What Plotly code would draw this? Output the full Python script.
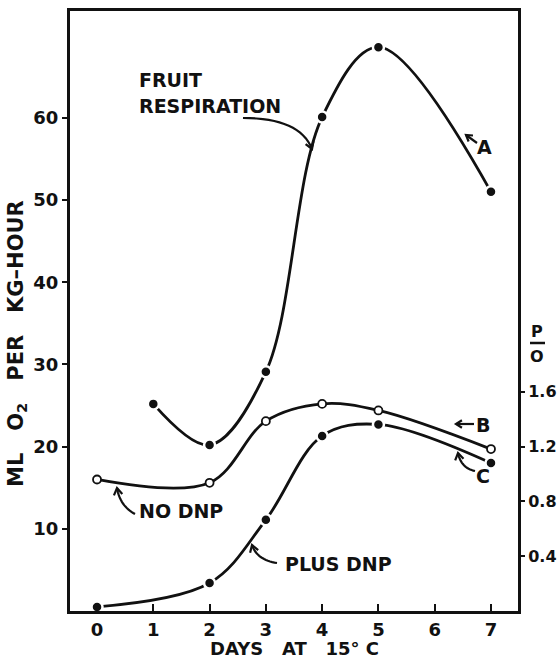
import math
import plotly.graph_objects as go

# ---- data ----
days_a = [1, 2, 3, 4, 5, 7]
resp_a = [25.2, 20.2, 29.1, 60.1, 68.6, 51.0]          # fruit respiration (A)
days_b = [0, 2, 3, 4, 5, 7]
no_dnp_b = [16.0, 15.6, 23.1, 25.2, 24.4, 19.7]         # NO DNP (B)
days_c = [0, 2, 3, 4, 5, 7]
plus_dnp_c = [0.5, 3.4, 11.1, 21.3, 22.7, 18.0]         # PLUS DNP (C)

x_ticks = [0, 1, 2, 3, 4, 5, 6, 7]
y_ticks = [10, 20, 30, 40, 50, 60]
y2_ticks = [0.4, 0.8, 1.2, 1.6]
y2_labels = ["0.4", "0.8", "1.2", "1.6"]

XR = [-0.48, 7.48]
YR = [0, 73]
Y2R = [0, 73 * 0.06]

W, H = 557, 658
L, R, T, B = 70, 518, 11, 611
FONT = "DejaVu Sans"
INK = "#111111"


def dx(px):
    return XR[0] + (px - L) / (R - L) * (XR[1] - XR[0])


def dy(py):
    return YR[0] + (B - py) / (B - T) * (YR[1] - YR[0])


def pxp(px):
    return (px - L) / (R - L)


def pyp(py):
    return (B - py) / (B - T)


fig = go.Figure()

fig.add_trace(go.Scatter(
    x=days_a, y=resp_a, mode="lines+markers",
    line=dict(color=INK, width=2.8, shape="spline", smoothing=1.0),
    marker=dict(size=11, color=INK, line=dict(color="white", width=2.5)),
    showlegend=False))
fig.add_trace(go.Scatter(
    x=days_b, y=no_dnp_b, mode="lines+markers",
    line=dict(color=INK, width=2.8, shape="spline", smoothing=1.0),
    marker=dict(size=8, color="white", line=dict(color=INK, width=1.8)),
    showlegend=False))
fig.add_trace(go.Scatter(
    x=days_c, y=plus_dnp_c, mode="lines+markers",
    line=dict(color=INK, width=2.8, shape="spline", smoothing=1.0),
    marker=dict(size=11, color=INK, line=dict(color="white", width=2.5)),
    showlegend=False))
# dummy trace to activate right axis
fig.add_trace(go.Scatter(x=[None], y=[None], yaxis="y2", showlegend=False))

tfont = dict(family=FONT, size=18, color=INK, weight="bold")
tfont2 = dict(family=FONT, size=16, color=INK, weight="bold")

fig.update_layout(
    width=W, height=H,
    margin=dict(l=L, r=W - R, t=T, b=H - B, autoexpand=False),
    paper_bgcolor="white", plot_bgcolor="white",
    xaxis=dict(range=XR, tickvals=x_ticks, ticks="inside", ticklen=7, tickwidth=2,
               tickcolor=INK, showline=True, linewidth=3, linecolor=INK, mirror=True,
               showgrid=False, zeroline=False, tickfont=tfont, automargin=False),
    yaxis=dict(range=YR, tickvals=y_ticks, ticks="outside", ticklen=5, tickwidth=2,
               tickcolor=INK, showline=True, linewidth=3, linecolor=INK, mirror=True,
               showgrid=False, zeroline=False, tickfont=tfont, automargin=False),
    yaxis2=dict(range=Y2R, overlaying="y", side="right", tickvals=y2_ticks,
                ticktext=y2_labels, ticks="outside", ticklen=6, tickwidth=2,
                tickcolor=INK, showline=False, showgrid=False, zeroline=False,
                tickfont=tfont2, automargin=False),
)

ann = []
shapes = []


def text(px, py, s, xanchor="center", size=19):
    ann.append(dict(x=pxp(px), y=pyp(py), xref="paper", yref="paper", text=s,
                    showarrow=False, xanchor=xanchor, yanchor="middle",
                    font=dict(family=FONT, size=size, color=INK, weight="bold")))


def path_px(pts, width=2):
    d = "M " + " L ".join("{},{}".format(dx(x), dy(y)) for x, y in pts)
    shapes.append(dict(type="path", path=d, xref="x", yref="y",
                       line=dict(color=INK, width=width)))


def vhead(tip, frm, size=8, ang=32):
    ux, uy = frm[0] - tip[0], frm[1] - tip[1]
    n = math.hypot(ux, uy)
    ux, uy = ux / n, uy / n
    pts = []
    for s in (1, -1):
        a = math.radians(ang * s)
        rx = ux * math.cos(a) - uy * math.sin(a)
        ry = ux * math.sin(a) + uy * math.cos(a)
        pts.append((tip[0] + rx * size, tip[1] + ry * size))
    path_px([pts[0], tip, pts[1]], width=2.2)


def qcurve(p0, c, p1, n=16):
    pts = []
    for i in range(n + 1):
        t = i / n
        x = (1 - t) ** 2 * p0[0] + 2 * (1 - t) * t * c[0] + t ** 2 * p1[0]
        y = (1 - t) ** 2 * p0[1] + 2 * (1 - t) * t * c[1] + t ** 2 * p1[1]
        pts.append((x, y))
    path_px(pts, width=2.2)
    vhead(p1, c)


# FRUIT RESPIRATION
text(137, 80, "FRUIT", xanchor="left")
text(137, 106, "RESPIRATION", xanchor="left")
qcurve((243, 118), (300, 118), (312, 149))

# A
text(484, 147, "A")
path_px([(477, 143), (466, 135)], width=2.2)
vhead((466, 135), (477, 143), size=7)

# B
text(483, 425, "B")
path_px([(474, 424), (456, 424)], width=2.2)
vhead((456, 424), (474, 424), size=7)

# C
text(483, 476, "C")
qcurve((475, 471), (461, 468), (458, 453))

# NO DNP
text(137, 511, "NO DNP", xanchor="left")
qcurve((135, 514), (120, 506), (117, 488))

# PLUS DNP
text(283, 564, "PLUS DNP", xanchor="left")
qcurve((277, 563), (257, 560), (252, 545))

# P/O label on right
text(537, 331, "P", size=16)
text(537, 356, "O", size=16)
shapes.append(dict(type="line", xref="paper", yref="paper",
                   x0=pxp(530), x1=pxp(545), y0=pyp(343), y1=pyp(343),
                   line=dict(color=INK, width=2.5)))

# axis titles
text(294, 648, "DAYS   AT   15° C", size=18)
ann.append(dict(x=pxp(17), y=pyp(344), xref="paper", yref="paper",
                text="ML   O<sub>2</sub>   PER   KG–HOUR", showarrow=False, textangle=-90,
                xanchor="center", yanchor="middle",
                font=dict(family=FONT, size=21, color=INK, weight="bold")))

fig.update_layout(annotations=ann, shapes=shapes)
fig.write_html("out.html", config={"displayModeBar": False},
               post_script="document.body.style.margin='0';")
